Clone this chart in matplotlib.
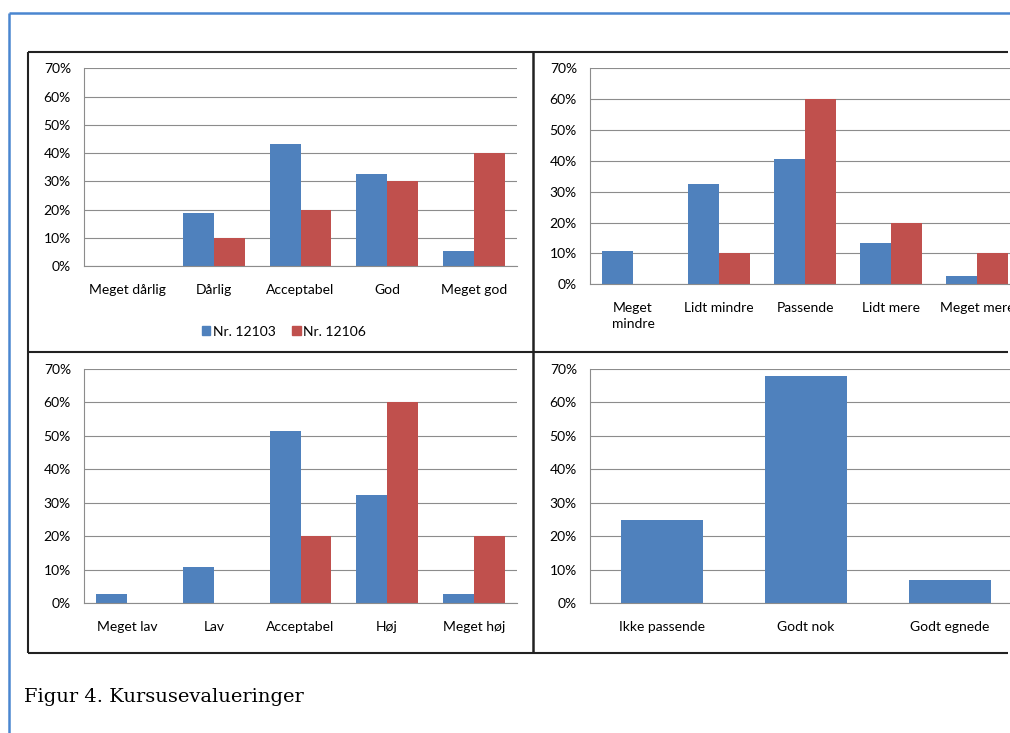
import numpy as np
import matplotlib.pyplot as plt
from matplotlib.lines import Line2D
from matplotlib.patches import Patch
from matplotlib.ticker import PercentFormatter

W, H = 1010, 733

# Kursusevalueringer, andel af svar i procent
kval_labels = ['Meget dårlig', 'Dårlig', 'Acceptabel', 'God', 'Meget god']
kval_12103 = [0, 18.9, 43.2, 32.4, 5.4]
kval_12106 = [0, 10, 20, 30, 40]

mgd_labels = ['Meget\nmindre', 'Lidt mindre', 'Passende', 'Lidt mere', 'Meget mere']
mgd_12103 = [10.8, 32.4, 40.5, 13.5, 2.7]
mgd_12106 = [0, 10, 60, 20, 10]

niv_labels = ['Meget lav', 'Lav', 'Acceptabel', 'Høj', 'Meget høj']
niv_12103 = [2.7, 10.8, 51.4, 32.4, 2.7]
niv_12106 = [0, 0, 20, 60, 20]

lok_labels = ['Ikke passende', 'Godt nok', 'Godt egnede']
lok_vals = [25.0, 67.9, 7.1]

series_names = ['Nr. 12103', 'Nr. 12106']

BLUE = '#4F81BD'
RED = '#C0504D'
GRID = '#8C8C8C'
FONT = 'Lato'

fig = plt.figure(figsize=(W / 100, H / 100), dpi=100)


def px_axes(x0, y0, x1, y1):
    return fig.add_axes([x0 / W, 1 - y1 / H, (x1 - x0) / W, (y1 - y0) / H])


def px_line(x0, y0, x1, y1, color, lw):
    fig.add_artist(Line2D([x0 / W, x1 / W], [1 - y0 / H, 1 - y1 / H],
                          color=color, lw=lw, solid_capstyle='butt'))


def style(ax, labels):
    n = len(labels)
    ax.set_xlim(-0.5, n - 0.5)
    ax.set_ylim(0, 70)
    ax.set_yticks(np.arange(0, 71, 10))
    ax.yaxis.set_major_formatter(PercentFormatter(decimals=0))
    ax.set_xticks(np.arange(n))
    ax.set_xticklabels(labels, family=FONT, fontsize=10, linespacing=1.35)
    for t in ax.get_yticklabels():
        t.set_family(FONT)
        t.set_fontsize(10)
    ax.tick_params(axis='y', length=0, pad=9.4)
    ax.tick_params(axis='x', length=0, pad=13)
    ax.grid(axis='y', color=GRID, lw=0.8)
    ax.set_axisbelow(True)
    for s in ['top', 'right']:
        ax.spines[s].set_visible(False)
    for s in ['left', 'bottom']:
        ax.spines[s].set_color(GRID)
        ax.spines[s].set_linewidth(0.8)


def grouped(ax, labels, a, b):
    x = np.arange(len(labels))
    w = 1 / 2.8
    ax.bar(x - w / 2, a, w, color=BLUE)
    ax.bar(x + w / 2, b, w, color=RED)
    style(ax, labels)


ax1 = px_axes(84, 68.3, 517, 266)
grouped(ax1, kval_labels, kval_12103, kval_12106)

ax2 = px_axes(590, 68.3, 1020, 284.3)
grouped(ax2, mgd_labels, mgd_12103, mgd_12106)

ax3 = px_axes(84, 369, 517, 603.3)
grouped(ax3, niv_labels, niv_12103, niv_12106)

ax4 = px_axes(590, 369, 1022, 603.3)
ax4.bar(np.arange(len(lok_labels)), lok_vals, 1 / 1.75, color=BLUE)
style(ax4, lok_labels)

handles = [Patch(color=BLUE, label=series_names[0]),
           Patch(color=RED, label=series_names[1])]
ax1.legend(handles=handles, loc='center', bbox_to_anchor=(284 / W, 1 - 331.5 / H),
           bbox_transform=fig.transFigure, ncol=2, frameon=False,
           handlelength=0.6, handleheight=0.6, handletextpad=0.2,
           columnspacing=1.2, prop={'family': FONT, 'size': 10})

# panel frames
dark = '#222222'
px_line(28, 52, 1008, 52, dark, 1.5)
px_line(28, 653, 1008, 653, dark, 1.5)
px_line(28, 351.5, 1008, 351.5, dark, 1.5)
px_line(28, 52, 28, 653, dark, 1.5)
px_line(533, 52, 533, 653, dark, 1.8)

# page frame
px_line(9, 12.5, 1010, 12.5, '#4A86D0', 1.8)
px_line(9, 12.5, 9, 733, '#4A86D0', 1.8)

fig.text(24 / W, 1 - 697 / H, 'Figur 4. Kursusevalueringer',
         family='DejaVu Serif', fontsize=14, va='center', ha='left')

fig.savefig('out.png', dpi=100)
